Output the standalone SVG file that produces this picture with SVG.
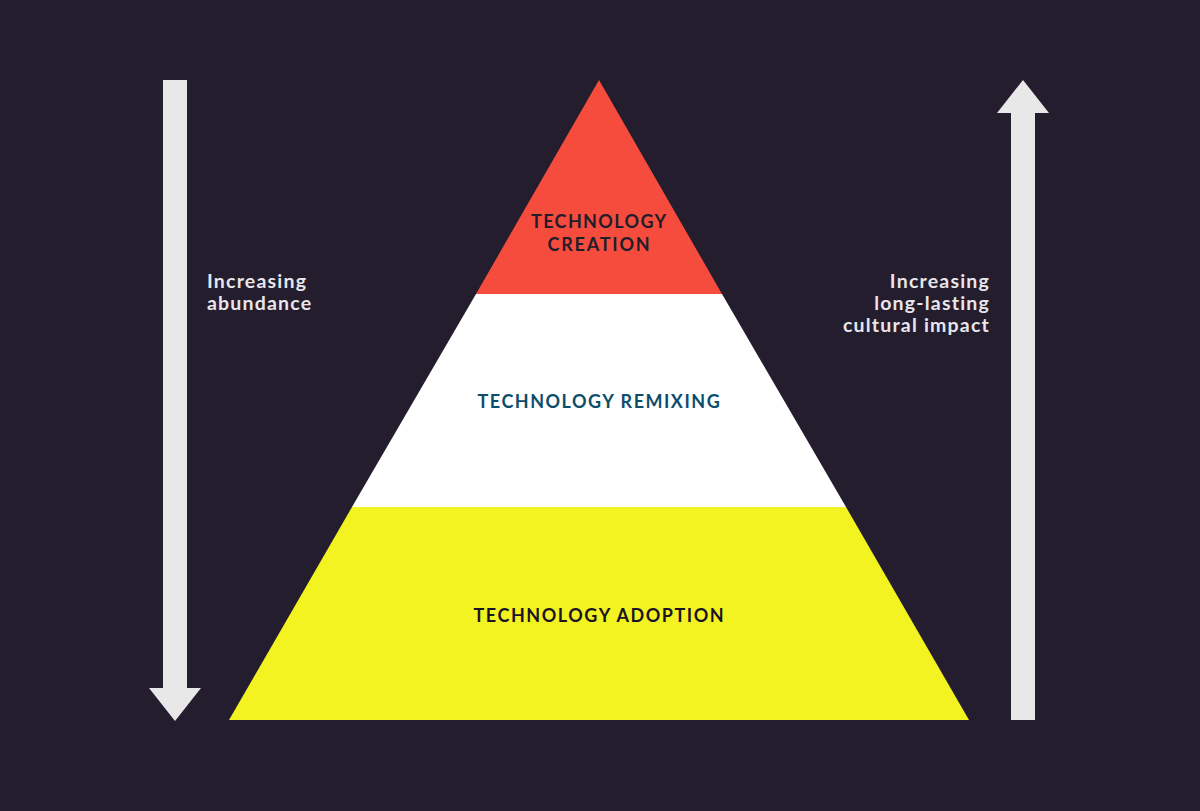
<svg xmlns="http://www.w3.org/2000/svg" width="1200" height="811" viewBox="0 0 1200 811">
<style>
.side{font-family:"Lato","Noto Sans","Liberation Sans",sans-serif;font-weight:bold;font-size:19.5px;fill:#e8e6ea;letter-spacing:1.2px}
.lbl{font-family:"Lato","Noto Sans","Liberation Sans",sans-serif;font-weight:bold;font-size:18px;text-anchor:middle;letter-spacing:0.8px}
.arrow{fill:#e8e8e9}
</style>
<rect width="1200" height="811" fill="#241d2e"/>
<g id="connectors">
<polygon class="arrow" points="163,80 187,80 187,688 201,688 175,721 149,688 163,688"/>
<polygon class="arrow" points="1011,720 1035,720 1035,113 1049,113 1023,80 997,113 1011,113"/>
</g>
<g id="creation">
<polygon points="599,80 722,294 476,294" fill="#f64c3d"/>
<text class="lbl" fill="#231c2b" x="599" y="228" textLength="136" lengthAdjust="spacing">TECHNOLOGY</text>
<text class="lbl" fill="#231c2b" x="599" y="251" textLength="103" lengthAdjust="spacing">CREATION</text>
</g>
<g id="remixing">
<polygon points="476,294 722,294 846,507 352,507" fill="#ffffff"/>
<text class="lbl" fill="#0d4d6c" x="599" y="408" textLength="243" lengthAdjust="spacing">TECHNOLOGY REMIXING</text>
</g>
<g id="adoption">
<polygon points="352,507 846,507 969,720 229,720" fill="#f3f321"/>
<text class="lbl" fill="#1a1424" x="599" y="622" textLength="251" lengthAdjust="spacing">TECHNOLOGY ADOPTION</text>
</g>
<g id="abundance">
<text class="side" x="207" y="288">Increasing</text>
<text class="side" x="207" y="310">abundance</text>
</g>
<g id="impact">
<text class="side" x="990" y="288" text-anchor="end">Increasing</text>
<text class="side" x="990" y="310" text-anchor="end">long-lasting</text>
<text class="side" x="990" y="332" text-anchor="end">cultural impact</text>
</g>
</svg>
